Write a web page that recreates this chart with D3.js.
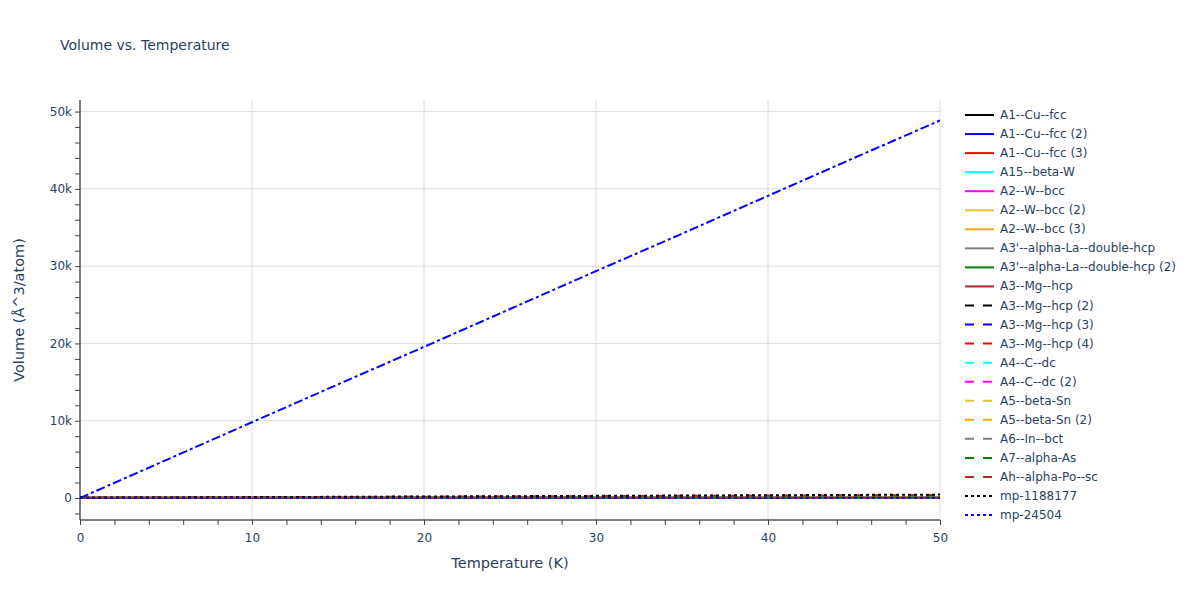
<!DOCTYPE html>
<html lang="en">
<head>
<meta charset="UTF-8">
<title>Volume vs. Temperature</title>
<script src="https://d3js.org/d3.v7.min.js"></script>
<style>
    body { margin: 0; background: #fff; }
    svg text { font-family: "DejaVu Sans", verdana, arial, sans-serif; fill: #2a3f5f; }
</style>
</head>
<body>
<script>
    // temperatures (K) where each curve is sampled
    var temps = [0, 5, 10, 15, 20, 25, 30, 35, 40, 45, 50];

    var seriesNames = ["A1--Cu--fcc", "A1--Cu--fcc (2)", "A1--Cu--fcc (3)", "A15--beta-W",
        "A2--W--bcc", "A2--W--bcc (2)", "A2--W--bcc (3)", "A3'--alpha-La--double-hcp",
        "A3'--alpha-La--double-hcp (2)", "A3--Mg--hcp", "A3--Mg--hcp (2)", "A3--Mg--hcp (3)",
        "A3--Mg--hcp (4)", "A4--C--dc", "A4--C--dc (2)", "A5--beta-Sn", "A5--beta-Sn (2)",
        "A6--In--bct", "A7--alpha-As", "Ah--alpha-Po--sc", "mp-1188177", "mp-24504",
        "extra-1"];

    var colors = ["#000000", "#0000ff", "#ff0000", "#00ffff", "#ff00ff", "#ebc034", "#ffa500",
        "#808080", "#008000", "#a52a2a"];
    var dashes = ["", "9,9", "3,3", "9,3,3,3"];

    // volumes (Å^3/atom)
    var vol0 = [12, 12, 12, 12, 12, 12, 12, 12, 12, 12, 12];
    var vol1 = [11.8, 11.8, 11.8, 11.8, 11.8, 11.8, 11.8, 11.8, 11.8, 11.8, 11.8];
    var vol2 = [12.5, 12.5, 12.5, 12.5, 12.5, 12.5, 12.5, 12.5, 12.5, 12.5, 12.5];
    var vol3 = [16, 16, 16, 16, 16, 16, 16, 16, 16, 16, 16];
    var vol4 = [16.3, 16.3, 16.3, 16.3, 16.3, 16.3, 16.3, 16.3, 16.3, 16.3, 16.3];
    var vol5 = [15.8, 15.8, 15.8, 15.8, 15.8, 15.8, 15.8, 15.8, 15.8, 15.8, 15.8];
    var vol6 = [16.1, 16.1, 16.1, 16.1, 16.1, 16.1, 16.1, 16.1, 16.1, 16.1, 16.1];
    var vol7 = [22, 22, 22, 22, 22, 22, 22, 22, 22, 22, 22];
    var vol8 = [22.4, 22.4, 22.4, 22.4, 22.4, 22.4, 22.4, 22.4, 22.4, 22.4, 22.4];
    var vol9 = [20, 20, 20, 20, 20, 20, 20, 20, 20, 20, 20];
    var vol10 = [20.3, 20.3, 20.3, 20.3, 20.3, 20.3, 20.3, 20.3, 20.3, 20.3, 20.3];
    var vol11 = [19.8, 19.8, 19.8, 19.8, 19.8, 19.8, 19.8, 19.8, 19.8, 19.8, 19.8];
    var vol12 = [20.6, 20.6, 20.6, 20.6, 20.6, 20.6, 20.6, 20.6, 20.6, 20.6, 20.6];
    var vol13 = [5.7, 5.7, 5.7, 5.7, 5.7, 5.7, 5.7, 5.7, 5.7, 5.7, 5.7];
    var vol14 = [5.9, 5.9, 5.9, 5.9, 5.9, 5.9, 5.9, 5.9, 5.9, 5.9, 5.9];
    var vol15 = [27, 27, 27, 27, 27, 27, 27, 27, 27, 27, 27];
    var vol16 = [27.3, 27.3, 27.3, 27.3, 27.3, 27.3, 27.3, 27.3, 27.3, 27.3, 27.3];
    var vol17 = [26, 26, 26, 26, 26, 26, 26, 26, 26, 26, 26];
    var vol18 = [21, 21, 21, 21, 21, 21, 21, 21, 21, 21, 21];
    var vol19 = [30, 60, 95, 130, 165, 200, 240, 275, 310, 345, 380];
    var vol20 = [35, 70, 110, 150, 190, 230, 275, 315, 355, 395, 435];
    var vol21 = [18, 18, 18, 18, 18, 18, 18, 18, 18, 18, 18];
    var vol22 = [0, 4900, 9800, 14700, 19550, 24450, 29350, 34200, 39100, 44000, 48850];

    var allVols = [vol0, vol1, vol2, vol3, vol4, vol5, vol6, vol7, vol8, vol9, vol10, vol11,
        vol12, vol13, vol14, vol15, vol16, vol17, vol18, vol19, vol20, vol21, vol22];
    // the last curve is blue dash-dot (its legend row is cut off)
    var styleIndex = [0, 1, 2, 3, 4, 5, 6, 7, 8, 9, 10, 11, 12, 13, 14, 15, 16, 17, 18, 19, 20, 21, 31];

    var W = 1200, H = 600;
    var margin = { left: 80, right: 260, top: 100, bottom: 80 };
    var pw = W - margin.left - margin.right;
    var ph = H - margin.top - margin.bottom;

    var svg = d3.select("body").append("svg").attr("width", W).attr("height", H);

    var x = d3.scaleLinear().domain([0, 50]).range([margin.left, margin.left + pw]);
    var y = d3.scaleLinear().domain([-2850, 51500]).range([margin.top + ph, margin.top]);

    // grid
    var grid = svg.append("g");
    grid.selectAll(".gx").data([10, 20, 30, 40, 50]).enter().append("line")
        .attr("x1", d => x(d)).attr("x2", d => x(d))
        .attr("y1", margin.top).attr("y2", margin.top + ph)
        .attr("stroke", "#dcdcdc").attr("stroke-width", 1);
    grid.selectAll(".gy").data([0, 10000, 20000, 30000, 40000, 50000]).enter().append("line")
        .attr("x1", margin.left).attr("x2", margin.left + pw)
        .attr("y1", d => y(d)).attr("y2", d => y(d))
        .attr("stroke", "#dcdcdc").attr("stroke-width", 1);

    // lines
    svg.append("clipPath").attr("id", "plotclip").append("rect")
        .attr("x", margin.left).attr("y", margin.top).attr("width", pw).attr("height", ph);
    var lineGen = d3.line().x(d => x(d[0])).y(d => y(d[1]));
    var plot = svg.append("g").attr("clip-path", "url(#plotclip)");
    allVols.forEach(function (vals, i) {
        var s = styleIndex[i];
        plot.append("path")
            .datum(temps.map((t, j) => [t, vals[j]]))
            .attr("d", lineGen)
            .attr("fill", "none")
            .attr("stroke", colors[s % 10])
            .attr("stroke-width", 2)
            .attr("stroke-dasharray", dashes[Math.floor(s / 10)]);
    });

    // axes
    var xAxis = d3.axisBottom(x).tickValues(d3.range(0, 51, 2)).tickSize(5)
        .tickFormat(d => d % 10 === 0 ? d : "");
    var gx = svg.append("g").attr("transform", "translate(0," + (margin.top + ph) + ")").call(xAxis);
    gx.select(".domain").attr("stroke", "#000").attr("d", "M" + margin.left + ",0H" + (margin.left + pw));
    gx.selectAll(".tick line").attr("stroke", "#444");
    gx.selectAll(".tick text").attr("font-size", 12).attr("dy", "1.2em");

    var yAxis = d3.axisLeft(y).tickValues(d3.range(-2000, 51000, 2000)).tickSize(5)
        .tickFormat(d => d % 10000 === 0 ? (d === 0 ? "0" : d / 1000 + "k") : "");
    var gy = svg.append("g").attr("transform", "translate(" + margin.left + ",0)").call(yAxis);
    gy.select(".domain").attr("stroke", "#000").attr("d", "M0," + margin.top + "V" + (margin.top + ph));
    gy.selectAll(".tick line").attr("stroke", "#444");
    gy.selectAll(".tick text").attr("font-size", 12).attr("x", -8);

    // titles
    svg.append("text").attr("x", 60).attr("y", 50).attr("font-size", 14).text("Volume vs. Temperature");
    svg.append("text").attr("x", x(25)).attr("y", 568).attr("text-anchor", "middle")
        .attr("font-size", 14.5).text("Temperature (K)");
    svg.append("text").attr("transform", "translate(24," + (margin.top + ph / 2) + ") rotate(-90)")
        .attr("text-anchor", "middle").attr("font-size", 14.5).text("Volume (Å^3/atom)");

    // legend (first 22 rows fit)
    var leg = svg.append("g");
    seriesNames.slice(0, 22).forEach(function (name, i) {
        var s = styleIndex[i];
        var ly = 115 + i * 19.05;
        leg.append("line").attr("x1", 965).attr("x2", 994).attr("y1", ly).attr("y2", ly)
            .attr("stroke", colors[s % 10]).attr("stroke-width", 2)
            .attr("stroke-dasharray", dashes[Math.floor(s / 10)]);
        leg.append("text").attr("x", 1000).attr("y", ly + 4).attr("font-size", 12).text(name);
    });
</script>
</body>
</html>
